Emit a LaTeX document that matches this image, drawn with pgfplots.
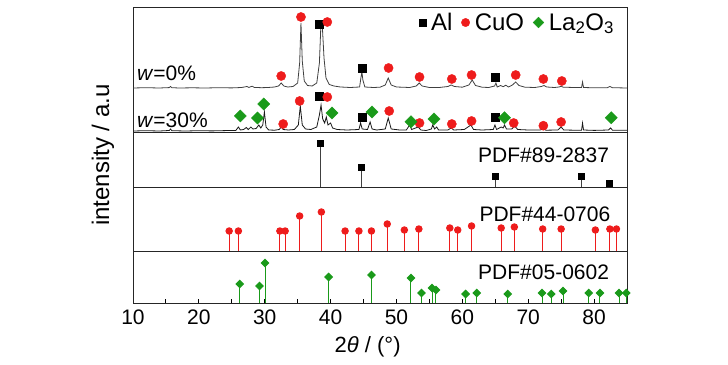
\documentclass[border=0pt]{standalone}
\usepackage{pgfplots}
\pgfplotsset{compat=1.18}
\usepackage{fontspec}
\setmainfont{Liberation Sans}
\definecolor{cured}{HTML}{EE1C1C}
\definecolor{lagreen}{HTML}{1A9A1A}
\begin{document}
\begin{tikzpicture}
\path[use as bounding box] (0pt,0pt) rectangle (728pt,364pt);
\pgfplotsset{
  panel/.style={scale only axis, width=494pt, xmin=10, xmax=85, ymin=0,
    xtick=\empty, ytick=\empty, axis line style={black!85, line width=1pt},
    anchor=south west},
  alm/.style={only marks, mark=square*, black, mark size=4pt},
  cum/.style={only marks, mark=*, cured, mark size=4.6pt},
  lam/.style={only marks, mark=square*, lagreen, mark size=4.3pt, mark options={rotate=45}},
}
% ---------------- top panel: measured patterns ----------------
\begin{axis}[panel, at={(133pt,231pt)}, height=125pt, ymax=125,
  legend columns=3,
  legend style={draw=none, fill=none, at={(rel axis cs:0.98,0.985)}, anchor=north east,
    font=\fontsize{24}{26}\selectfont, inner sep=1pt,
    /tikz/every odd column/.append style={column sep=3pt},
    /tikz/every even column/.append style={column sep=7pt}},
  legend cell align=left]
\addlegendimage{only marks, mark=square*, black, mark size=3.5pt}
\addlegendentry{Al}
\addlegendimage{only marks, mark=*, cured, mark size=4.2pt}
\addlegendentry{CuO}
\addlegendimage{only marks, mark=square*, lagreen, mark size=3.8pt, mark options={rotate=45}}
\addlegendentry{La\textsubscript{2}O\textsubscript{3}}
% w = 0 %
\addplot[black!75, line width=0.8pt, forget plot] coordinates {
(10,45) (12,45.3) (14,45) (15.5,45.4) (15.7,46.5) (15.9,45.3) (17,45) (19,45.2) (21,45)
(23,45.3) (25,45.1) (26.5,45.5) (27.3,46.5) (27.6,45.6) (28.1,46.8) (28.4,45.6) (29.5,45.3)
(30.5,45.5) (31.5,46) (32.1,47) (32.5,50) (32.9,47) (33.5,46) (34.3,46.5) (35.0,50) (35.3,70)
(35.5,110) (35.7,72) (36.0,52) (36.5,47.5) (37.2,47) (37.9,50) (38.3,70) (38.5,104) (38.75,106)
(39.0,75) (39.3,55) (39.8,48.5) (40.5,47) (41.5,46) (43,45.5) (44.4,46) (44.6,55) (44.75,61)
(44.9,53) (45.2,46) (46.5,45.5) (47.5,45.8) (48.3,48) (48.75,55) (49.2,48) (50,46) (52,45.5)
(53,47) (53.45,50) (53.9,47) (55,45.5) (56.5,45.5) (57.8,46.5) (58.3,48) (58.8,46.5) (60,45.8)
(61,48) (61.5,53) (62,47.5) (63,45.8) (64,45.5) (64.9,47) (65.1,50) (65.3,46) (65.8,47.5)
(66.2,46.3) (66.6,47.8) (67,46) (67.6,48) (68.1,51) (68.6,47.5) (69.5,45.8) (71,45.5) (72,46.5)
(72.4,47.5) (72.8,46) (74,45.5) (74.7,46) (75,46.8) (75.3,45.8) (77,45.5) (78.1,45.5)
(78.25,51) (78.4,45.5) (80,45.2) (82,45.3) (82.4,46.5) (82.8,45.3) (85,45)};
% w = 30 %
\addplot[black!90, line width=0.8pt, forget plot] coordinates {
(10,2) (12,2.3) (14,2) (15.5,2.5) (15.7,4) (15.9,2.3) (18,2) (20,2.3) (22,2.1) (24,2.4)
(25.6,2.5) (26.0,6) (26.3,3) (26.8,3.5) (27.2,5.5) (27.5,3.5) (27.9,6) (28.2,4) (28.7,4.5)
(29.1,8) (29.4,5) (29.7,8) (29.95,21) (30.2,6) (30.6,3) (31.5,2.8) (32.2,3.5) (32.5,6)
(32.8,3.5) (33.6,3) (34.5,3.5) (35.1,8) (35.4,27) (35.7,8) (36.2,4) (37,3.5) (37.9,6)
(38.3,18) (38.55,28) (38.8,14) (39.1,10) (39.35,16) (39.6,8) (40.0,10) (40.3,5) (41,3.5)
(42.5,3) (44.3,3.5) (44.55,10) (44.8,4) (45.6,3.5) (46.0,11) (46.3,4) (47,3) (48.3,4)
(48.75,15) (49.2,4) (50.5,3) (51.5,3) (52.0,8) (52.3,3.5) (53.3,6) (53.7,3) (54.5,2.5)
(55.3,4) (55.5,8) (55.8,4) (56.1,6) (56.4,3) (57.8,3) (58.3,5) (58.7,3) (60.3,3.5) (61.3,8)
(61.7,3.5) (63,3) (64.7,3.5) (64.95,8) (65.2,3.5) (65.9,6) (66.2,5) (66.4,8) (66.7,4)
(67.5,4) (67.95,7) (68.4,3.5) (70,3) (71.8,3) (72.3,4) (72.7,2.8) (74.5,3) (75,6) (75.4,3)
(77,2.8) (78.1,2.8) (78.25,10) (78.4,3) (80,2.6) (82.2,3) (82.5,5) (82.8,2.8) (85,2.7)};
% phase markers
\addplot[alm, forget plot] coordinates {(38.2,109) (44.8,65) (65.0,56)
  (38.2,37) (44.8,16) (65.0,15.3)};
\addplot[cum, forget plot] coordinates {(32.5,57) (35.5,116) (39.5,111) (48.8,65) (53.5,56)
  (58.4,54) (61.4,58) (68.1,58) (72.3,54) (75.1,52)
  (32.8,9) (35.3,32) (39.5,36) (48.9,22) (53.5,10) (58.4,9) (61.4,12) (67.8,10) (72.3,7.3) (75.0,11)};
\addplot[lam, forget plot] coordinates {(26.3,17) (28.9,15) (29.85,29) (40.2,20) (46.3,21)
  (52.2,11.3) (55.7,14) (66.4,15.3) (82.6,15.3)};
\node[anchor=base west, font=\fontsize{21}{24}\selectfont, inner sep=0pt] at (axis cs:10.6,52) {\textit{w}=0\%};
\node[anchor=base west, font=\fontsize{21}{24}\selectfont, inner sep=0pt] at (axis cs:10.6,5.5) {\textit{w}=30\%};
\end{axis}
% ---------------- PDF#89-2837 (Al) ----------------
\begin{axis}[panel, at={(133pt,176pt)}, height=55pt, ymax=55]
\addplot[ycomb, black!75, line width=1pt, mark=square*, mark size=3pt,
  mark options={black}] coordinates {(38.5,44) (44.7,20.5) (65.0,11) (78.1,11) (82.3,4)};
\node[anchor=base east, font=\fontsize{21}{24}\selectfont] at (axis cs:82.8,25) {PDF\#89-2837};
\end{axis}
% ---------------- PDF#44-0706 (CuO) ----------------
\begin{axis}[panel, at={(133pt,112pt)}, height=64pt, ymax=64]
\addplot[ycomb, cured, line width=1pt, mark=*, mark size=3.2pt] coordinates {
(24.6,21) (26.0,21) (32.3,21) (33.1,21) (35.3,36) (38.6,40) (42.2,21) (44.3,21) (46.2,21)
(48.6,28) (51.2,22) (53.4,23) (58.1,24) (59.3,22) (61.4,26) (65.9,24) (67.9,25) (72.2,23)
(75.0,23) (80.2,22) (82.4,23) (83.4,23)};
\node[anchor=base east, font=\fontsize{21}{24}\selectfont] at (axis cs:83.0,30) {PDF\#44-0706};
\end{axis}
% ---------------- PDF#05-0602 (La2O3) ----------------
\begin{axis}[panel, at={(133pt,61pt)}, height=51pt, ymax=51,
  xtick={10,20,...,80}, minor x tick num=1, xtick pos=bottom, tick align=inside,
  major tick length=4pt, minor tick length=4pt,
  tick style={black, line width=1pt},
  /pgf/number format/assume math mode=true,
  xticklabel style={font=\fontsize{21}{24}\selectfont, anchor=base, yshift=-21pt},
  xlabel={2\textit{θ} / (°)},
  xlabel style={font=\fontsize{22}{24}\selectfont, at={(axis description cs:0.475,0)}, anchor=base, yshift=-49pt}]
\addplot[ycomb, lagreen, line width=1pt, mark=square*, mark size=2.6pt,
  mark options={rotate=45}] coordinates {
(26.2,19) (29.2,17) (30.05,40) (39.7,26) (46.2,28) (52.2,25) (53.8,10) (55.4,15) (56.0,13)
(60.5,9) (62.2,10) (66.9,9) (72.1,10) (73.5,9) (75.3,12) (79.2,10) (80.9,10) (83.8,10) (84.9,10)};
\node[anchor=base east, font=\fontsize{21}{24}\selectfont] at (axis cs:82.8,23) {PDF\#05-0602};
\end{axis}
\node[rotate=90, font=\fontsize{24}{26}\selectfont] at (103pt,209pt) {intensity / a.u};
\end{tikzpicture}
\end{document}
